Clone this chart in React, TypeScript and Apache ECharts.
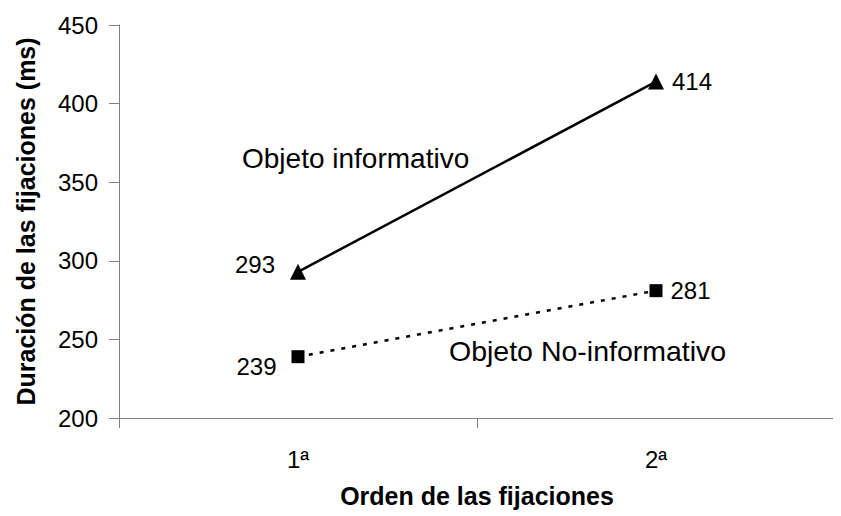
import React, { useEffect, useRef } from "react";
import * as echarts from "echarts";

const categories = ["1ª", "2ª"];
const informativo = [293, 414];
const noInformativo = [239, 281];
const yTicks = { min: 200, max: 450, interval: 50 };
const seriesNames = ["Objeto informativo", "Objeto No-informativo"];
const xTitle = "Orden de las fijaciones";
const yTitle = "Duración de las fijaciones (ms)";

const FONT = "Liberation Sans, Arial, sans-serif";

export default function App() {
  const ref = useRef<HTMLDivElement>(null);
  useEffect(() => {
    if (!ref.current) return;
    const chart = echarts.init(ref.current, undefined, { renderer: "svg" });
    chart.setOption({
      animation: false,
      backgroundColor: "#ffffff",
      textStyle: { fontFamily: FONT },
      grid: { left: 119, right: 6, top: 25, bottom: 98, containLabel: false },
      xAxis: {
        type: "category",
        data: categories,
        boundaryGap: true,
        axisLine: { lineStyle: { color: "#808080", width: 1 } },
        axisTick: { show: true, length: 10, lineStyle: { color: "#808080" } },
        axisLabel: { color: "#000", fontSize: 24, fontFamily: FONT, margin: 29 },
        name: xTitle,
        nameLocation: "middle",
        nameGap: 65,
        nameTextStyle: { color: "#000", fontSize: 25, fontWeight: "bold", fontFamily: FONT },
        splitLine: { show: false },
      },
      yAxis: {
        type: "value",
        min: yTicks.min,
        max: yTicks.max,
        interval: yTicks.interval,
        axisLine: { show: true, lineStyle: { color: "#808080", width: 1 } },
        axisTick: { show: true, length: 10, lineStyle: { color: "#808080" } },
        axisLabel: { color: "#000", fontSize: 24, fontFamily: FONT, margin: 21 },
        splitLine: { show: false },
        name: yTitle,
        nameLocation: "middle",
        nameGap: 81,
        nameTextStyle: { color: "#000", fontSize: 25, fontWeight: "bold", fontFamily: FONT },
      },
      series: [
        {
          name: seriesNames[0],
          type: "line",
          data: informativo,
          symbol: "triangle",
          symbolSize: 16,
          lineStyle: { color: "#000", width: 2.5, type: "solid" },
          itemStyle: { color: "#000" },
          label: {
            show: true,
            color: "#000",
            fontSize: 24,
            fontFamily: FONT,
            formatter: (p: any) => String(p.value),
          },
          labelLayout: (p: any) =>
            p.dataIndex === 0
              ? { x: p.rect.x - 15, y: p.rect.y + p.rect.height / 2 - 7, align: "right", verticalAlign: "middle" }
              : { x: p.rect.x + p.rect.width + 8, y: p.rect.y + p.rect.height / 2, align: "left", verticalAlign: "middle" },
        },
        {
          name: seriesNames[1],
          type: "line",
          data: noInformativo,
          symbol: "rect",
          symbolSize: 13,
          lineStyle: { color: "#000", width: 2.5, type: [4, 7] },
          itemStyle: { color: "#000" },
          label: {
            show: true,
            color: "#000",
            fontSize: 24,
            fontFamily: FONT,
            formatter: (p: any) => String(p.value),
          },
          labelLayout: (p: any) =>
            p.dataIndex === 0
              ? { x: p.rect.x - 15, y: p.rect.y + p.rect.height / 2 + 10, align: "right", verticalAlign: "middle" }
              : { x: p.rect.x + p.rect.width + 8, y: p.rect.y + p.rect.height / 2, align: "left", verticalAlign: "middle" },
        },
      ],
      graphic: [
        {
          type: "text",
          x: 242,
          y: 158,
          style: {
            text: seriesNames[0],
            fill: "#000",
            font: `28px ${FONT}`,
            textAlign: "left",
            textVerticalAlign: "middle",
          },
        },
        {
          type: "text",
          x: 449,
          y: 351,
          style: {
            text: seriesNames[1],
            fill: "#000",
            font: `28.5px ${FONT}`,
            textAlign: "left",
            textVerticalAlign: "middle",
          },
        },
      ],
    });
    return () => chart.dispose();
  }, []);
  return <div ref={ref} style={{ width: 841, height: 516, marginLeft: -8, marginTop: -8 }} />;
}
